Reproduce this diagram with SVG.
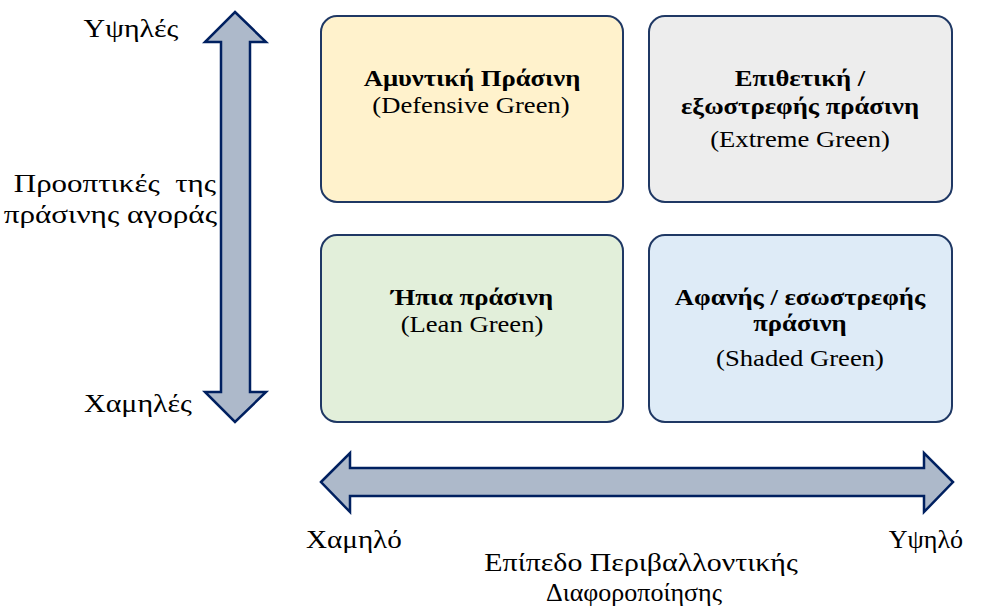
<svg xmlns="http://www.w3.org/2000/svg" width="984" height="615" viewBox="0 0 984 615">
<style>
.box{stroke:#1F3864;stroke-width:2}
.arr{fill:#ADB9CA;stroke:#002060;stroke-width:2.5;stroke-linejoin:miter}
text{font-family:"Liberation Serif","Times New Roman",serif;fill:#000}
.t{font-size:24px}
.l{font-size:26px}
.b{font-weight:bold}
.c{text-anchor:middle}
.e{text-anchor:end}
</style>
<rect width="984" height="615" fill="#fff"/>
<g id="connectors">
<path class="arr" d="M235,12 L266,42 L250,42 L250,392 L266,392 L235,422 L205,392 L221,392 L221,42 L205,42 Z"/>
<path class="arr" d="M321,482 L350,453 L350,468 L924,468 L924,453 L953,482 L924,512 L924,496 L350,496 L350,512 Z"/>
</g>
<g id="defensive">
<rect class="box" x="321" y="16" width="302" height="186" rx="16" fill="#FFF2CC"/>
<text class="t c b" transform="translate(472,86) scale(1.11,1)">Αμυντική Πράσινη</text>
<text class="t c" transform="translate(471,113) scale(1.11,1)">(Defensive Green)</text>
</g>
<g id="extreme">
<rect class="box" x="649" y="16" width="303" height="186" rx="16" fill="#EDEDED"/>
<text class="t c b" transform="translate(800,86) scale(1.11,1)">Επιθετική /</text>
<text class="t c b" transform="translate(800,114) scale(1.11,1)">εξωστρεφής πράσινη</text>
<text class="t c" transform="translate(800,147) scale(1.11,1)">(Extreme Green)</text>
</g>
<g id="lean">
<rect class="box" x="321" y="235" width="302" height="187" rx="16" fill="#E2EFDA"/>
<text class="t c b" transform="translate(472,305) scale(1.11,1)">Ήπια πράσινη</text>
<text class="t c" transform="translate(472,332) scale(1.11,1)">(Lean Green)</text>
</g>
<g id="shaded">
<rect class="box" x="649" y="235" width="303" height="187" rx="16" fill="#DEEBF7"/>
<text class="t c b" transform="translate(800,305) scale(1.11,1)">Αφανής / εσωστρεφής</text>
<text class="t c b" transform="translate(800,331) scale(1.11,1)">πράσινη</text>
<text class="t c" transform="translate(800,366) scale(1.11,1)">(Shaded Green)</text>
</g>
<g id="labels">
<text class="l c" transform="translate(131,37) scale(1.15,1)">Υψηλές</text>
<text class="l c" transform="translate(138,412) scale(1.15,1)">Χαμηλές</text>
<text class="l e" transform="translate(216,192) scale(1.19,1)" xml:space="preserve">Προοπτικές  της</text>
<text class="l e" transform="translate(217,223) scale(1.2,1)">πράσινης αγοράς</text>
<text class="l" transform="translate(306,548) scale(1.12,1)">Χαμηλό</text>
<text class="l e" transform="translate(963,548) scale(1.0,1)">Υψηλό</text>
<text class="l c" transform="translate(641,571) scale(1.15,1)">Επίπεδο Περιβαλλοντικής</text>
<text class="l c" transform="translate(634,601) scale(1.0,1)">Διαφοροποίησης</text>
</g>
</svg>
